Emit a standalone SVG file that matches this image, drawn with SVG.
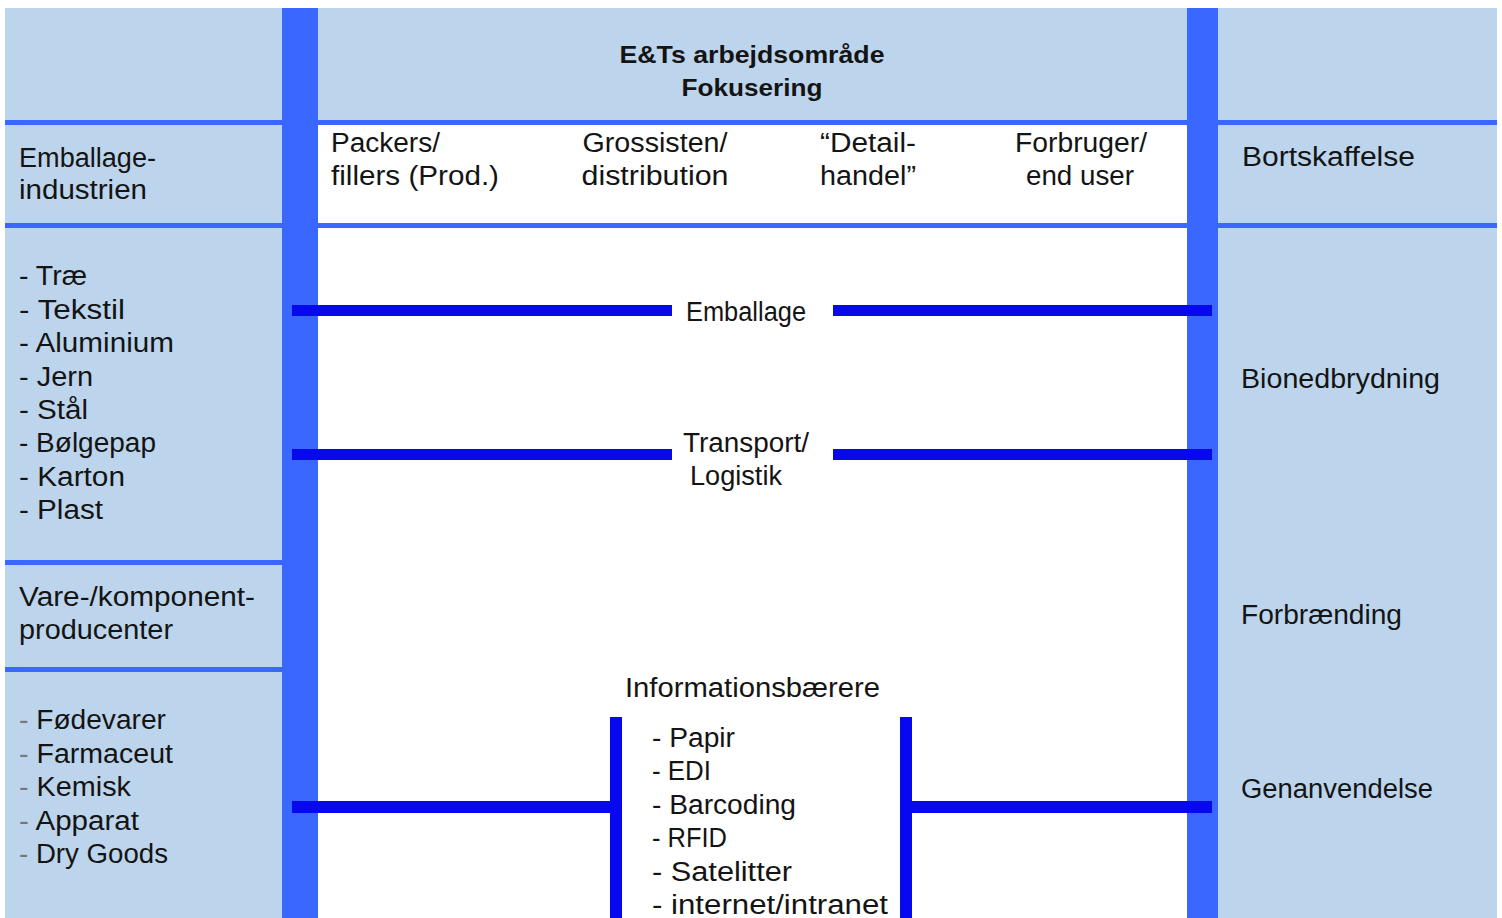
<svg xmlns="http://www.w3.org/2000/svg" width="1502" height="918" viewBox="0 0 1502 918">
<style>
.panel{fill:#BDD5EC}
.bar{fill:#3A67FF}
.t{font-family:"Liberation Sans",Arial,sans-serif;font-size:27px;fill:#141414}
.b{font-family:"Liberation Sans",Arial,sans-serif;font-size:24px;font-weight:bold;fill:#141414}
.m{text-anchor:middle}
.d{fill:#777}
.conn{fill:#0808EE}
</style>
<rect width="1502" height="918" fill="#fff"/>
<g id="left-column">
<rect class="panel" x="5" y="8" width="277" height="910"/>
<rect class="bar" x="5" y="560" width="277" height="5"/>
<rect class="bar" x="5" y="667" width="277" height="5"/>
</g>
<g id="top-band">
<rect class="panel" x="318" y="8" width="870" height="112"/>
</g>
<g id="right-column">
<rect class="panel" x="1218" y="8" width="279" height="910"/>
</g>
<g id="separators">
<rect class="bar" x="5" y="120" width="1492" height="5"/>
<rect class="bar" x="5" y="223" width="1492" height="5"/>
</g>
<g id="bar-left"><rect class="bar" x="282" y="8" width="36" height="910"/></g>
<g id="bar-right"><rect class="bar" x="1187" y="8" width="31" height="910"/></g>

<g id="header">
<text class="b m" x="752" y="63" textLength="265" lengthAdjust="spacingAndGlyphs">E&amp;Ts arbejdsområde</text>
<text class="b m" x="752" y="96" textLength="141" lengthAdjust="spacingAndGlyphs">Fokusering</text>
</g>

<g id="node-emballageindustrien">
<text class="t" x="19" y="167" textLength="137" lengthAdjust="spacingAndGlyphs">Emballage-</text>
<text class="t" x="19" y="199" textLength="128" lengthAdjust="spacingAndGlyphs">industrien</text>
</g>
<g id="node-materials">
<text class="t" x="19" y="285" textLength="68" lengthAdjust="spacingAndGlyphs">- Træ</text>
<text class="t" x="19" y="318.5" textLength="106" lengthAdjust="spacingAndGlyphs">- Tekstil</text>
<text class="t" x="19" y="352" textLength="155" lengthAdjust="spacingAndGlyphs">- Aluminium</text>
<text class="t" x="19" y="385.5" textLength="74" lengthAdjust="spacingAndGlyphs">- Jern</text>
<text class="t" x="19" y="419" textLength="69" lengthAdjust="spacingAndGlyphs">- Stål</text>
<text class="t" x="19" y="452" textLength="137" lengthAdjust="spacingAndGlyphs">- Bølgepap</text>
<text class="t" x="19" y="485.5" textLength="106" lengthAdjust="spacingAndGlyphs">- Karton</text>
<text class="t" x="19" y="519" textLength="84" lengthAdjust="spacingAndGlyphs">- Plast</text>
</g>
<g id="node-vareproducenter">
<text class="t" x="19" y="606" textLength="236" lengthAdjust="spacingAndGlyphs">Vare-/komponent-</text>
<text class="t" x="19" y="639" textLength="154" lengthAdjust="spacingAndGlyphs">producenter</text>
</g>
<g id="node-goods">
<text class="t" x="19" y="729" textLength="147" lengthAdjust="spacingAndGlyphs"><tspan class="d">-</tspan> Fødevarer</text>
<text class="t" x="19" y="762.5" textLength="154" lengthAdjust="spacingAndGlyphs"><tspan class="d">-</tspan> Farmaceut</text>
<text class="t" x="19" y="796" textLength="112" lengthAdjust="spacingAndGlyphs"><tspan class="d">-</tspan> Kemisk</text>
<text class="t" x="19" y="829.5" textLength="120" lengthAdjust="spacingAndGlyphs"><tspan class="d">-</tspan> Apparat</text>
<text class="t" x="19" y="863" textLength="149" lengthAdjust="spacingAndGlyphs"><tspan class="d">-</tspan> Dry Goods</text>
</g>

<g id="node-packers">
<text class="t" x="331" y="152" textLength="109" lengthAdjust="spacingAndGlyphs">Packers/</text>
<text class="t" x="331" y="185" textLength="168" lengthAdjust="spacingAndGlyphs">fillers (Prod.)</text>
</g>
<g id="node-grossisten">
<text class="t m" x="655" y="152" textLength="145" lengthAdjust="spacingAndGlyphs">Grossisten/</text>
<text class="t m" x="655" y="185" textLength="147" lengthAdjust="spacingAndGlyphs">distribution</text>
</g>
<g id="node-detailhandel">
<text class="t" x="820" y="152" textLength="96" lengthAdjust="spacingAndGlyphs">“Detail-</text>
<text class="t" x="820" y="185" textLength="96" lengthAdjust="spacingAndGlyphs">handel”</text>
</g>
<g id="node-forbruger">
<text class="t m" x="1081" y="152" textLength="132" lengthAdjust="spacingAndGlyphs">Forbruger/</text>
<text class="t m" x="1080" y="185" textLength="108" lengthAdjust="spacingAndGlyphs">end user</text>
</g>

<g id="node-bortskaffelse"><text class="t" x="1242" y="166" textLength="173" lengthAdjust="spacingAndGlyphs">Bortskaffelse</text></g>
<g id="node-bionedbrydning"><text class="t" x="1241" y="388" textLength="199" lengthAdjust="spacingAndGlyphs">Bionedbrydning</text></g>
<g id="node-forbraending"><text class="t" x="1241" y="624" textLength="161" lengthAdjust="spacingAndGlyphs">Forbrænding</text></g>
<g id="node-genanvendelse"><text class="t" x="1241" y="798" textLength="192" lengthAdjust="spacingAndGlyphs">Genanvendelse</text></g>

<g id="connectors">
<rect class="conn" x="292" y="305" width="380" height="11"/>
<rect class="conn" x="833" y="305" width="379" height="11"/>
<rect class="conn" x="292" y="449" width="380" height="11"/>
<rect class="conn" x="833" y="449" width="379" height="11"/>
<rect class="conn" x="292" y="801" width="320" height="12"/>
<rect class="conn" x="610" y="717" width="12" height="201"/>
<rect class="conn" x="900" y="717" width="12" height="201"/>
<rect class="conn" x="911" y="801" width="301" height="12"/>
</g>

<g id="node-emballage"><text class="t" x="686" y="321" textLength="120" lengthAdjust="spacingAndGlyphs">Emballage</text></g>
<g id="node-transport">
<text class="t" x="683" y="452" textLength="126" lengthAdjust="spacingAndGlyphs">Transport/</text>
<text class="t" x="690" y="485" textLength="92" lengthAdjust="spacingAndGlyphs">Logistik</text>
</g>
<g id="node-informationsbaerere">
<text class="t" x="625" y="697" textLength="255" lengthAdjust="spacingAndGlyphs">Informationsbærere</text>
<text class="t" x="652" y="746.5" textLength="83" lengthAdjust="spacingAndGlyphs">- Papir</text>
<text class="t" x="652" y="780" textLength="59" lengthAdjust="spacingAndGlyphs">- EDI</text>
<text class="t" x="652" y="813.5" textLength="144" lengthAdjust="spacingAndGlyphs">- Barcoding</text>
<text class="t" x="652" y="847" textLength="75" lengthAdjust="spacingAndGlyphs">- RFID</text>
<text class="t" x="652" y="880.5" textLength="140" lengthAdjust="spacingAndGlyphs">- Satelitter</text>
<text class="t" x="652" y="914" textLength="236" lengthAdjust="spacingAndGlyphs">- internet/intranet</text>
</g>
</svg>
